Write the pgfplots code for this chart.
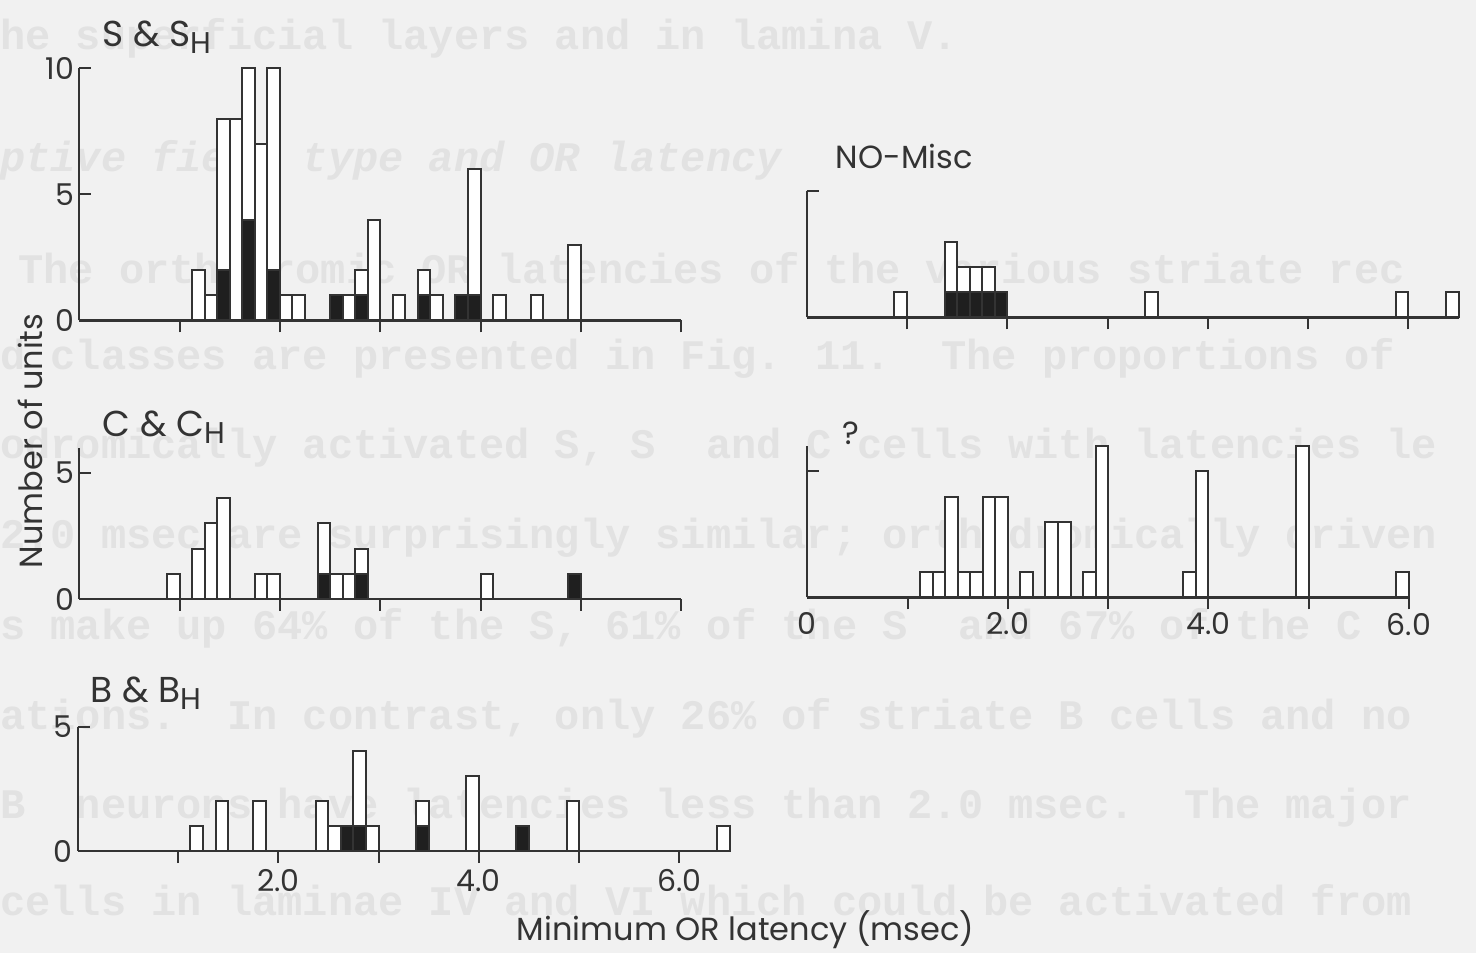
\documentclass[border=0pt]{standalone}
\usepackage{pgfplots}
\pgfplotsset{compat=1.18}
\usepackage{fontspec}
\setmainfont{Poppins}
\newfontfamily\bleed{Liberation Mono}
\definecolor{ink}{gray}{0.2}
\definecolor{dark}{gray}{0.12}
\definecolor{bg}{gray}{0.945}
\definecolor{ghost}{gray}{0.885}
\newcommand{\tf}{\fontsize{16}{16}\selectfont}
\newcommand{\ttf}{\fontsize{18}{18}\selectfont}
\newcommand{\sub}[1]{\raisebox{-3.5pt}{\fontsize{15}{15}\selectfont #1}}
\pgfplotsset{
  panel/.style={
    anchor=origin,
    x=50.15pt, y=12.6pt,
    xmin=0, ymin=0, enlargelimits=false,
    axis x line*=bottom, axis y line*=left,
    axis line style={ink, line width=1.1pt},
    xtick={1,2,3,4,5,6}, xticklabels={},
    xtick align=outside, ytick align=inside,
    major tick length=6pt,
    tick style={ink, line width=1pt},
    ticklabel style={font=\fontsize{15}{15}\selectfont, text=ink},
    yticklabel style={inner sep=0pt, xshift=-2.5pt},
    xticklabel style={inner sep=0pt},
    /pgf/number format/assume math mode=true,
    ybar, bar width=0.125,
    clip=false,
  },
  wb/.style={fill=white, draw=ink, line width=1pt, bar shift=0pt},
  bk/.style={fill=dark, draw=ink, line width=1pt, bar shift=0pt},
}
\begin{document}
\begin{tikzpicture}
\useasboundingbox (0,0) rectangle (738pt,476.5pt);
\clip (0,0) rectangle (738pt,476.5pt);
\fill[bg] (0,0) rectangle (738pt,476.5pt);
% faint show-through text of the page
\begin{scope}[every node/.style={anchor=west, inner sep=0pt, text=ghost, font=\bleed\bfseries\fontsize{21}{21}\selectfont}]
\node at (0pt,457.5pt) {he superficial layers and in lamina V.};
\node[font=\bleed\bfseries\itshape\fontsize{21}{21}\selectfont] at (0pt,396.5pt) {ptive field type and OR latency};
\node at (9pt,342.5pt) {The orthodromic OR latencies of the various striate rec};
\node at (0pt,297.5pt) {d classes are presented in Fig. 11.~~The proportions of};
\node at (0pt,252.5pt) {odromically activated S, S~~and C cells with latencies le};
\node at (0pt,207.5pt) {2.0 msec are surprisingly similar; orthodromically driven};
\node at (0pt,162.5pt) {s make up 64\% of the S, 61\% of the S~~and 67\% of the C};
\node at (0pt,117.5pt) {ations.~~In contrast, only 26\% of striate B cells and no};
\node at (0pt,72.5pt) {B~~neurons have latencies less than 2.0 msec.~~The major};
\node at (0pt,26.5pt) {cells in laminae IV and VI which could be activated from};
\end{scope}

% S & S_H
\begin{axis}[panel, at={(39.65pt,316.25pt)}, xmax=6, ymax=10,
  ytick={0,5,10}, yticklabels={0,5,10}]
\addplot[wb] coordinates {(1.1875,2)(1.3125,1)(1.4375,8)(1.5625,8)(1.6875,10)(1.8125,7)(1.9375,10)(2.0625,1)(2.1875,1)(2.5625,1)(2.6875,1)(2.8125,2)(2.9375,4)(3.1875,1)(3.4375,2)(3.5625,1)(3.8125,1)(3.9375,6)(4.1875,1)(4.5625,1)(4.9375,3)};
\addplot[bk] coordinates {(1.4375,2)(1.6875,4)(1.9375,2)(2.5625,1)(2.8125,1)(3.4375,1)(3.8125,1)(3.9375,1)};
\end{axis}

% NO-Misc
\begin{axis}[panel, at={(403.3pt,317.75pt)}, xmax=6.5, ymax=5,
  ytick={5}, yticklabels={}]
\addplot[wb] coordinates {(0.9375,1)(1.4375,3)(1.5625,2)(1.6875,2)(1.8125,2)(1.9375,1)(3.4375,1)(5.9375,1)(6.4375,1)};
\addplot[bk] coordinates {(1.4375,1)(1.5625,1)(1.6875,1)(1.8125,1)(1.9375,1)};
\end{axis}

% C & C_H
\begin{axis}[panel, at={(39.65pt,177pt)}, xmax=6, ymax=6,
  ytick={0,5}, yticklabels={0,5}]
\addplot[wb] coordinates {(0.9375,1)(1.1875,2)(1.3125,3)(1.4375,4)(1.8125,1)(1.9375,1)(2.4375,3)(2.5625,1)(2.6875,1)(2.8125,2)(4.0625,1)(4.9375,1)};
\addplot[bk] coordinates {(2.4375,1)(2.8125,1)(4.9375,1)};
\end{axis}

% ?
\begin{axis}[panel, at={(403.6pt,177.75pt)}, xmax=6, ymax=6,
  ytick={5}, yticklabels={},
  xticklabels={,2.0,,4.0,,6.0},
  extra x ticks={0}, extra x tick labels={0},
  extra x tick style={tick style={draw=none}},
  xticklabel style={yshift=-1.5pt}]
\addplot[wb] coordinates {(1.1875,1)(1.3125,1)(1.4375,4)(1.5625,1)(1.6875,1)(1.8125,4)(1.9375,4)(2.1875,1)(2.4375,3)(2.5625,3)(2.8125,1)(2.9375,6)(3.8125,1)(3.9375,5)(4.9375,6)(5.9375,1)};
\end{axis}

% B & B_H
\begin{axis}[panel, at={(38.8pt,51pt)}, xmax=6.5, ymax=5, y=12.45pt,
  ytick={0,5}, yticklabels={0,5},
  xticklabels={,2.0,,4.0,,6.0},
  xticklabel style={yshift=-3pt}]
\addplot[wb] coordinates {(1.1875,1)(1.4375,2)(1.8125,2)(2.4375,2)(2.5625,1)(2.6875,1)(2.8125,4)(2.9375,1)(3.4375,2)(3.9375,3)(4.4375,1)(4.9375,2)(6.4375,1)};
\addplot[bk] coordinates {(2.6875,1)(2.8125,1)(3.4375,1)(4.4375,1)};
\end{axis}

% titles and labels
\begin{scope}[every node/.style={inner sep=0pt, text=ink, font=\tf}]
\node[anchor=base west, font=\ttf] at (51.25pt,453pt) {S \& S\sub{H}};
\node[anchor=base west] at (417.75pt,392pt) {NO-Misc};
\node[anchor=base west, font=\ttf] at (51.25pt,258pt) {C \& C\sub{H}};
\node[anchor=base west] at (421pt,254pt) {?};
\node[anchor=base west, font=\ttf] at (45.25pt,125pt) {B \& B\sub{H}};
\node[anchor=base] at (372.75pt,6.5pt) {Minimum OR latency (msec)};
\node[anchor=base, rotate=90] at (21pt,256pt) {Number of units};
\end{scope}
\end{tikzpicture}
\end{document}
